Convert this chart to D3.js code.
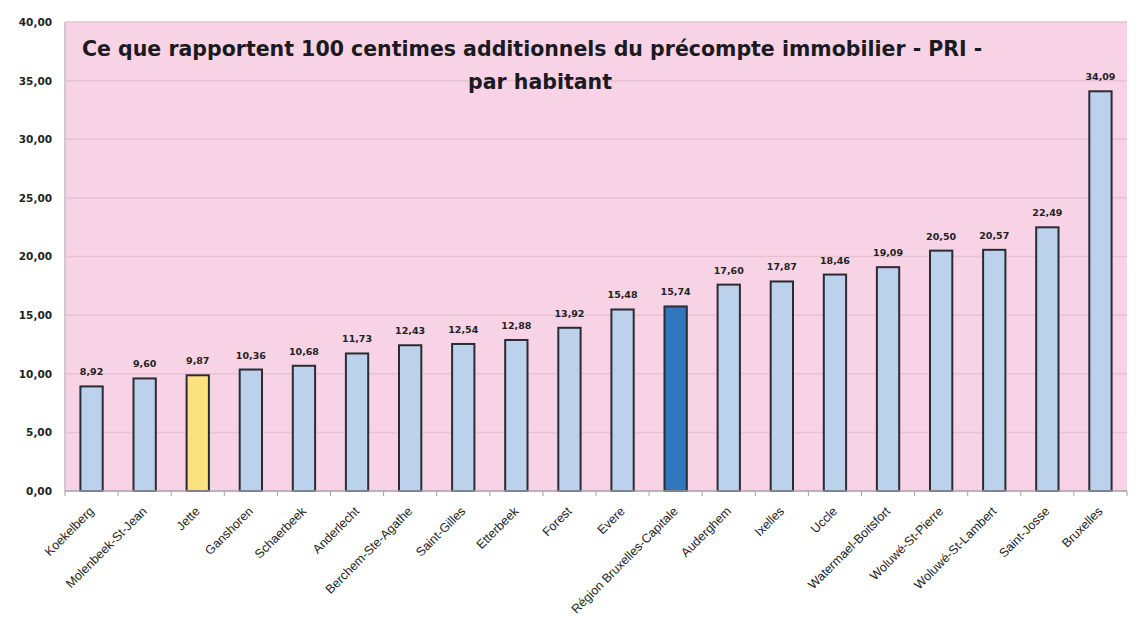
<!DOCTYPE html>
<html>
<head>
<meta charset="utf-8">
<script src="https://cdn.jsdelivr.net/npm/d3@7"></script>
<style>
  body { margin: 0; background: #fff; }
  svg { display: block; }
</style>
</head>
<body>
<div id="chart"></div>
<script>
const W = 1139;
const H = 624;

const communes = [
  "Koekelberg", "Molenbeek-St-Jean", "Jette", "Ganshoren", "Schaerbeek",
  "Anderlecht", "Berchem-Ste-Agathe", "Saint-Gilles", "Etterbeek", "Forest",
  "Evere", "Région Bruxelles-Capitale", "Auderghem", "Ixelles", "Uccle",
  "Watermael-Boitsfort", "Woluwé-St-Pierre", "Woluwé-St-Lambert", "Saint-Josse", "Bruxelles"
];
const values = [
  8.92, 9.60, 9.87, 10.36, 10.68, 11.73, 12.43, 12.54, 12.88, 13.92,
  15.48, 15.74, 17.60, 17.87, 18.46, 19.09, 20.50, 20.57, 22.49, 34.09
];
const yTicks = [0, 5, 10, 15, 20, 25, 30, 35, 40];
const highlight = { "Jette": "#fbe27f", "Région Bruxelles-Capitale": "#2f77bd" };
const titleLines = [
  "Ce que rapportent 100 centimes additionnels du précompte immobilier - PRI -",
  "par habitant"
];

const margin = { top: 22, right: 12, bottom: 133, left: 65 };
const innerW = W - margin.left - margin.right;
const innerH = H - margin.top - margin.bottom;

const fmt = v => d3.format(".2f")(v).replace(".", ",");

const svg = d3.select("#chart").append("svg")
  .attr("width", W)
  .attr("height", H);

const g = svg.append("g")
  .attr("transform", `translate(${margin.left},${margin.top})`);

const x = d3.scaleBand()
  .domain(communes)
  .range([0, innerW])
  .paddingInner(0.58)
  .paddingOuter(0.29);

const y = d3.scaleLinear()
  .domain([0, 40])
  .range([innerH, 0]);

// plot background
g.append("rect")
  .attr("width", innerW)
  .attr("height", innerH)
  .attr("fill", "#f8d3e5");

// gridlines
g.append("g")
  .selectAll("line")
  .data(yTicks.slice(1))
  .enter()
  .append("line")
  .attr("x1", 0)
  .attr("x2", innerW)
  .attr("y1", d => y(d))
  .attr("y2", d => y(d))
  .attr("stroke", "#e6c2d4")
  .attr("stroke-width", 1.5);

// left axis line
g.append("line")
  .attr("x1", 0).attr("x2", 0)
  .attr("y1", 0).attr("y2", innerH)
  .attr("stroke", "#d6c6d2")
  .attr("stroke-width", 2);

// y axis labels
const yAxis = d3.axisLeft(y).tickValues(yTicks).tickFormat(fmt).tickSize(0).tickPadding(13);
g.append("g")
  .call(yAxis)
  .call(s => s.select(".domain").remove())
  .selectAll("text")
  .attr("font-family", "DejaVu Sans, Verdana, sans-serif")
  .attr("font-weight", "bold")
  .attr("font-size", 10.5)
  .attr("fill", "#222");

// bars
g.append("g")
  .selectAll("rect")
  .data(communes)
  .enter()
  .append("rect")
  .attr("x", d => x(d))
  .attr("y", (d, i) => y(values[i]))
  .attr("width", x.bandwidth())
  .attr("height", (d, i) => innerH - y(values[i]))
  .attr("fill", d => highlight[d] || "#bcd1ec")
  .attr("stroke", "#2b2b33")
  .attr("stroke-width", 2);

// value labels
g.append("g")
  .selectAll("text")
  .data(communes)
  .enter()
  .append("text")
  .attr("x", d => x(d) + x.bandwidth() / 2)
  .attr("y", (d, i) => y(values[i]) - 11)
  .attr("text-anchor", "middle")
  .attr("font-family", "DejaVu Sans, Verdana, sans-serif")
  .attr("font-weight", "bold")
  .attr("font-size", 9.5)
  .attr("fill", "#222")
  .text((d, i) => fmt(values[i]));

// x axis line and ticks between categories
const step = x.step();
const xAxisG = g.append("g").attr("transform", `translate(0,${innerH})`);
xAxisG.append("line")
  .attr("x1", 0).attr("x2", innerW)
  .attr("stroke", "#a0a0a8").attr("stroke-width", 1.5);
xAxisG.selectAll("line.tick")
  .data(d3.range(communes.length + 1))
  .enter()
  .append("line")
  .attr("class", "tick")
  .attr("x1", i => i * step).attr("x2", i => i * step)
  .attr("y1", 0).attr("y2", 5)
  .attr("stroke", "#a0a0a8");

xAxisG.selectAll("text")
  .data(communes)
  .enter()
  .append("text")
  .attr("transform", d => `translate(${x(d) + x.bandwidth() / 2 + 3},${21}) rotate(-45)`)
  .attr("text-anchor", "end")
  .attr("font-family", "Liberation Sans, Arial, sans-serif")
  .attr("font-size", 12.5)
  .attr("fill", "#1e1e1e")
  .text(d => d);

// title
svg.append("text")
  .attr("x", 82)
  .attr("y", 56)
  .attr("font-family", "DejaVu Sans, Verdana, sans-serif")
  .attr("font-weight", "bold")
  .attr("font-size", 20.5)
  .attr("fill", "#1a1a22")
  .text(titleLines[0]);
svg.append("text")
  .attr("x", 540)
  .attr("y", 89)
  .attr("text-anchor", "middle")
  .attr("font-family", "DejaVu Sans, Verdana, sans-serif")
  .attr("font-weight", "bold")
  .attr("font-size", 20.5)
  .attr("fill", "#1a1a22")
  .text(titleLines[1]);
</script>
</body>
</html>
